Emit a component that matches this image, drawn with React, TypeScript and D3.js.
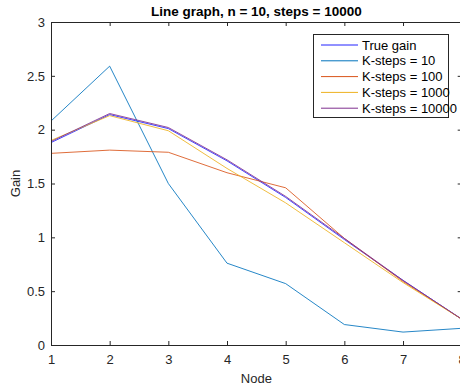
import React, { useRef, useEffect } from "react"
import * as d3 from "d3"

// node indices on the x axis
const nodes = [1, 2, 3, 4, 5, 6, 7, 8]
const xTicks = [1, 2, 3, 4, 5, 6, 7, 8]
const yTicks = [0, 0.5, 1, 1.5, 2, 2.5, 3]

// gain per node
const trueGain = [1.88, 2.14, 2.01, 1.71, 1.37, 0.98, 0.6, 0.24]
const kSteps10 = [2.08, 2.59, 1.5, 0.76, 0.57, 0.19, 0.12, 0.155]
const kSteps100 = [1.78, 1.81, 1.79, 1.6, 1.46, 0.99, 0.59, 0.24]
const kSteps1000 = [1.9, 2.13, 1.99, 1.64, 1.32, 0.95, 0.58, 0.24]
const kSteps10000 = [1.89, 2.15, 2.02, 1.72, 1.38, 0.99, 0.6, 0.24]

const seriesNames = ["True gain", "K-steps = 10", "K-steps = 100", "K-steps = 1000", "K-steps = 10000"]
const seriesValues = [trueGain, kSteps10, kSteps100, kSteps1000, kSteps10000]
const seriesColors = ["#2222ff", "#0072bd", "#d95319", "#edb120", "#7e2f8e"]

export default function App() {
    const svgRef = useRef<SVGSVGElement>(null)

    useEffect(() => {
        const width = 460
        const height = 389
        const left = 51
        const right = 461.7
        const top = 22
        const bottom = 345
        const axisColor = "#262626"
        const font = "'Liberation Sans', Arial, sans-serif"

        const svg = d3.select(svgRef.current)
            .attr("width", width)
            .attr("height", height)
        svg.selectAll("*").remove()

        svg.append("rect").attr("width", width).attr("height", height).attr("fill", "#fff")

        const xScale = d3.scaleLinear().domain([1, 8]).range([left, right])
        const yScale = d3.scaleLinear().domain([0, 3]).range([bottom, top])

        // lines
        const line = d3.line<number>()
            .x((d, i) => xScale(nodes[i]))
            .y(d => yScale(d))

        seriesValues.forEach((vals, i) => {
            svg.append("path")
                .datum(vals)
                .attr("d", line)
                .attr("fill", "none")
                .attr("stroke", seriesColors[i])
                .attr("stroke-width", 1)
                .attr("opacity", 0.85)
        })

        // axes, ticks pointing inward like matlab
        const styleAxis = (g: any) => {
            g.select(".domain").attr("stroke", axisColor)
            g.selectAll(".tick line").attr("stroke", axisColor)
            g.selectAll("text").attr("fill", axisColor).attr("font-size", 13).attr("font-family", font)
        }

        svg.append("g")
            .attr("transform", `translate(0, ${bottom})`)
            .call(d3.axisBottom(xScale).tickValues(xTicks).tickFormat(d3.format("d")).tickSizeInner(-4).tickSizeOuter(0).tickPadding(10))
            .call(styleAxis)
        svg.append("g")
            .attr("transform", `translate(0, ${top})`)
            .call(d3.axisTop(xScale).tickValues(xTicks).tickFormat(() => "").tickSizeInner(-4).tickSizeOuter(0))
            .call(styleAxis)
        svg.append("g")
            .attr("transform", `translate(${left}, 0)`)
            .call(d3.axisLeft(yScale).tickValues(yTicks).tickFormat(d => String(d)).tickSizeInner(-4).tickSizeOuter(0).tickPadding(6))
            .call(styleAxis)
        svg.append("g")
            .attr("transform", `translate(${right}, 0)`)
            .call(d3.axisRight(yScale).tickValues(yTicks).tickFormat(() => "").tickSizeInner(-4).tickSizeOuter(0))
            .call(styleAxis)

        svg.selectAll("path.domain").attr("stroke-width", 1)

        // title and labels
        svg.append("text")
            .attr("x", (left + right) / 2)
            .attr("y", 16)
            .attr("text-anchor", "middle")
            .attr("font-family", font)
            .attr("font-size", 13.5)
            .attr("font-weight", "bold")
            .attr("fill", "#000")
            .text("Line graph, n = 10, steps = 10000")

        svg.append("text")
            .attr("x", (left + right) / 2)
            .attr("y", 383)
            .attr("text-anchor", "middle")
            .attr("font-family", font)
            .attr("font-size", 13)
            .attr("fill", axisColor)
            .text("Node")

        svg.append("text")
            .attr("transform", `translate(20, ${(top + bottom) / 2}) rotate(-90)`)
            .attr("text-anchor", "middle")
            .attr("font-family", font)
            .attr("font-size", 13)
            .attr("fill", axisColor)
            .text("Gain")

        // legend
        const legend = svg.append("g")
        legend.append("rect")
            .attr("x", 313.5)
            .attr("y", 34.5)
            .attr("width", 135)
            .attr("height", 83)
            .attr("fill", "#fff")
            .attr("stroke", axisColor)
            .attr("stroke-width", 1)

        seriesNames.forEach((name, i) => {
            const y = 45 + i * 15.8
            legend.append("line")
                .attr("x1", 321).attr("x2", 358)
                .attr("y1", y).attr("y2", y)
                .attr("stroke", seriesColors[i])
                .attr("stroke-width", 1)
            legend.append("text")
                .attr("x", 362)
                .attr("y", y)
                .attr("dy", "0.35em")
                .attr("font-family", font)
                .attr("font-size", 13)
                .attr("fill", "#000")
                .text(name)
        })
    }, [])

    return (
        <svg ref={svgRef} style={{ position: "absolute", left: 0, top: 0 }}></svg>
    )
}
